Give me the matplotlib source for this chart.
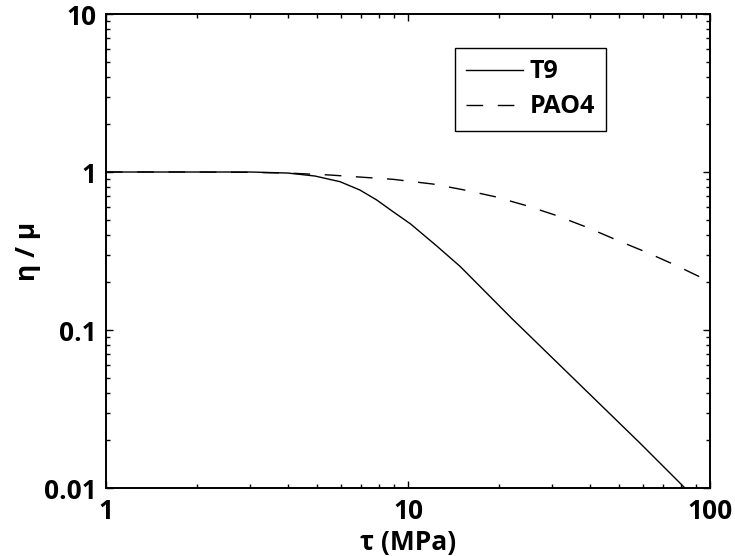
import matplotlib
matplotlib.use("Agg")
import matplotlib.pyplot as plt
from matplotlib.ticker import LogLocator, FixedLocator, FixedFormatter, NullFormatter

font = "Open Sans"
plt.rcParams["font.family"] = [font, "DejaVu Sans"]
plt.rcParams["font.weight"] = "bold"

# shear stress (MPa) and normalised viscosity for each fluid
tau_t9 = [1, 2, 3, 4, 4.92, 5.96, 6.93, 7.88, 8.92, 10.2, 12.5, 14.9, 22.0, 58.7, 82.6]
eta_t9 = [1.0, 1.0, 1.0, 0.985, 0.943, 0.868, 0.769, 0.665, 0.561, 0.469, 0.338, 0.252, 0.119, 0.0192, 0.01]

tau_pao4 = [1, 2, 3, 4, 5.52, 8.92, 12.1, 15.4, 19.4, 24.7, 30.7, 39.1, 49.1, 61.7, 76.6, 100]
eta_pao4 = [1.0, 1.0, 0.995, 0.985, 0.957, 0.899, 0.839, 0.769, 0.698, 0.612, 0.534, 0.447, 0.371, 0.310, 0.258, 0.202]

xticks = [1, 10, 100]
xticklabels = ["1", "10", "100"]
yticks = [0.01, 0.1, 1, 10]
yticklabels = ["0.01", "0.1", "1", "10"]

fig = plt.figure(figsize=(7.35, 5.56), dpi=100)
ax = fig.add_axes([0.1442, 0.1223, 0.8218, 0.8525])

ax.plot(tau_t9, eta_t9, color="k", linewidth=1.0, label="T9")
ax.plot(tau_pao4, eta_pao4, color="k", linewidth=1.0, dashes=(12, 10.5), label="PAO4")

ax.set_xscale("log")
ax.set_yscale("log")
ax.set_xlim(1, 100)
ax.set_ylim(0.01, 10)

ax.xaxis.set_major_locator(FixedLocator(xticks))
ax.xaxis.set_major_formatter(FixedFormatter(xticklabels))
ax.yaxis.set_major_locator(FixedLocator(yticks))
ax.yaxis.set_major_formatter(FixedFormatter(yticklabels))
ax.xaxis.set_minor_locator(LogLocator(base=10, subs=range(2, 10)))
ax.yaxis.set_minor_locator(LogLocator(base=10, subs=range(2, 10)))
ax.xaxis.set_minor_formatter(NullFormatter())
ax.yaxis.set_minor_formatter(NullFormatter())

ax.tick_params(which="both", direction="in", top=True, right=True, width=1.0,
               labelsize=19)
ax.tick_params(which="major", length=5, pad=7)
ax.tick_params(which="minor", length=3)
for spine in ax.spines.values():
    spine.set_linewidth(1.4)

ax.set_xlabel("τ (MPa)", fontsize=19, fontweight="bold", labelpad=3)
ax.set_ylabel("η / μ", fontsize=19, fontweight="bold", labelpad=2)

leg = ax.legend(loc="upper left", bbox_to_anchor=(0.577, 0.928), fontsize=18,
                frameon=True, fancybox=False, edgecolor="k", framealpha=1,
                handlelength=2.3, handletextpad=0.25, labelspacing=0.4,
                borderpad=0.45, borderaxespad=0)
leg.get_frame().set_linewidth(1.0)

fig.savefig("out.png", dpi=100)
